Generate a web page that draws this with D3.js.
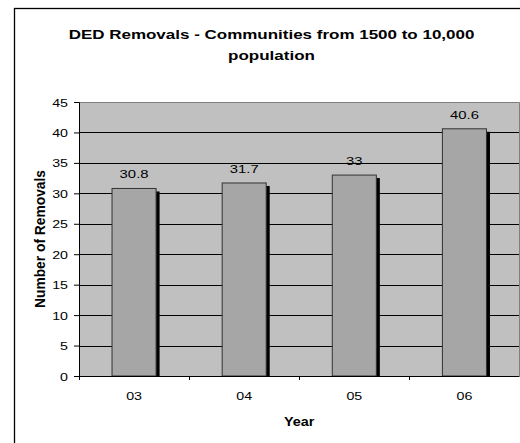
<!DOCTYPE html>
<html>
<head>
<meta charset="utf-8">
<script src="https://cdn.jsdelivr.net/npm/d3@7"></script>
<style>
  html, body { margin: 0; padding: 0; background: #fff; }
  svg { display: block; font-family: "Liberation Sans", Arial, sans-serif; }
</style>
</head>
<body>
<svg id="chart" width="520" height="443"></svg>
<script>
// Data: DED removals by year
const years = ["03", "04", "05", "06"];
const removals = [30.8, 31.7, 33, 40.6];
const yTicks = [0, 5, 10, 15, 20, 25, 30, 35, 40, 45];
const titleLines = ["DED Removals - Communities from 1500 to 10,000", "population"];
const yTitle = "Number of Removals";
const xTitle = "Year";

const svg = d3.select("#chart");

// Geometry of the plot area
const plot = { left: 79, right: 519.5, top: 102, bottom: 376 };
const stretch = 1.26; // horizontal text stretch

// Chart frame
svg.append("rect")
  .attr("x", 14.5).attr("y", 8.5)
  .attr("width", 530).attr("height", 460)
  .attr("fill", "#fff").attr("stroke", "#000").attr("stroke-width", 1.3);

// Scales
const y = d3.scaleLinear().domain([0, 45]).range([plot.bottom, plot.top]);
const xBand = d3.scaleBand().domain(years).range([plot.left, plot.right])
  .paddingInner(0.6).paddingOuter(0.3);
const xCat = d3.scaleBand().domain(years).range([plot.left, plot.right]).padding(0);

// Plot background
svg.append("rect")
  .attr("x", plot.left).attr("y", plot.top)
  .attr("width", plot.right - plot.left).attr("height", plot.bottom - plot.top)
  .attr("fill", "#c0c0c0");

// Horizontal gridlines
svg.append("g").selectAll("line")
  .data(yTicks.filter(t => t > 0 && t < 45))
  .join("line")
  .attr("x1", plot.left).attr("x2", plot.right)
  .attr("y1", d => Math.round(y(d)) + 0.5).attr("y2", d => Math.round(y(d)) + 0.5)
  .attr("stroke", "#000").attr("stroke-width", 1);

// Plot border (top and right)
svg.append("path")
  .attr("d", `M${plot.left},${plot.top + 0.5}H${plot.right}V${plot.bottom}`)
  .attr("fill", "none").attr("stroke", "#808080").attr("stroke-width", 1);

// Bars with dark drop shadow
const bars = svg.append("g");
bars.selectAll("rect.shadow")
  .data(removals)
  .join("rect")
  .attr("class", "shadow")
  .attr("x", (d, i) => xBand(years[i]) + 3.5)
  .attr("y", d => y(d) + 3)
  .attr("width", xBand.bandwidth())
  .attr("height", d => y(0) - y(d) - 3)
  .attr("fill", "#000");
bars.selectAll("rect.bar")
  .data(removals)
  .join("rect")
  .attr("class", "bar")
  .attr("x", (d, i) => xBand(years[i]))
  .attr("y", d => y(d))
  .attr("width", xBand.bandwidth())
  .attr("height", d => y(0) - y(d))
  .attr("fill", "#a6a6a6")
  .attr("stroke", "#333").attr("stroke-width", 1);

// Value labels
bars.selectAll("text.value")
  .data(removals)
  .join("text")
  .attr("class", "value")
  .attr("transform", (d, i) =>
    `translate(${xBand(years[i]) + xBand.bandwidth() / 2},${y(d) - 10}) scale(${stretch},1)`)
  .attr("text-anchor", "middle")
  .attr("font-size", 11.8)
  .attr("fill", "#000")
  .text(d => d);

// Y axis
const yAxis = svg.append("g")
  .attr("transform", `translate(${plot.left},0)`)
  .call(d3.axisLeft(y).tickValues(yTicks).tickSize(5).tickFormat(d3.format("d")));
yAxis.select(".domain").attr("stroke", "#000");
yAxis.selectAll(".tick line").attr("stroke", "#000");
yAxis.selectAll(".tick text")
  .attr("x", null).attr("dy", null)
  .attr("transform", `translate(-11,4) scale(${stretch},1)`)
  .attr("font-size", 11.3)
  .attr("font-family", "Liberation Sans, Arial, sans-serif")
  .attr("fill", "#000");

// X axis: line, boundary ticks, category labels
const xAxis = svg.append("g");
xAxis.append("line")
  .attr("x1", plot.left).attr("x2", plot.right)
  .attr("y1", plot.bottom + 0.5).attr("y2", plot.bottom + 0.5)
  .attr("stroke", "#000");
const bounds = years.map(c => xCat(c)).concat([xCat(years[years.length - 1]) + xCat.bandwidth()]);
xAxis.selectAll("line.tick")
  .data(bounds)
  .join("line")
  .attr("class", "tick")
  .attr("x1", d => Math.round(d) + 0.5).attr("x2", d => Math.round(d) + 0.5)
  .attr("y1", plot.bottom).attr("y2", plot.bottom + 4)
  .attr("stroke", "#000");
xAxis.selectAll("text")
  .data(years)
  .join("text")
  .attr("transform", d => `translate(${xCat(d) + xCat.bandwidth() / 2},400) scale(${stretch},1)`)
  .attr("text-anchor", "middle")
  .attr("font-size", 11.3)
  .attr("fill", "#000")
  .text(d => d);

// Titles
const titleX = 271.5;
svg.append("g").selectAll("text")
  .data(titleLines)
  .join("text")
  .attr("transform", (d, i) => `translate(${titleX},${39 + i * 21.3}) scale(1.25,1)`)
  .attr("text-anchor", "middle")
  .attr("font-size", 13.6)
  .attr("font-weight", "bold")
  .attr("fill", "#000")
  .text(d => d);

svg.append("text")
  .attr("transform", `translate(${(plot.left + plot.right) / 2},425.5) scale(1.2,1)`)
  .attr("text-anchor", "middle")
  .attr("font-size", 12)
  .attr("font-weight", "bold")
  .text(xTitle);

svg.append("text")
  .attr("transform", `translate(45,${(plot.top + plot.bottom) / 2}) rotate(-90)`)
  .attr("text-anchor", "middle")
  .attr("font-size", 13.8)
  .attr("font-weight", "bold")
  .text(yTitle);
</script>
</body>
</html>
